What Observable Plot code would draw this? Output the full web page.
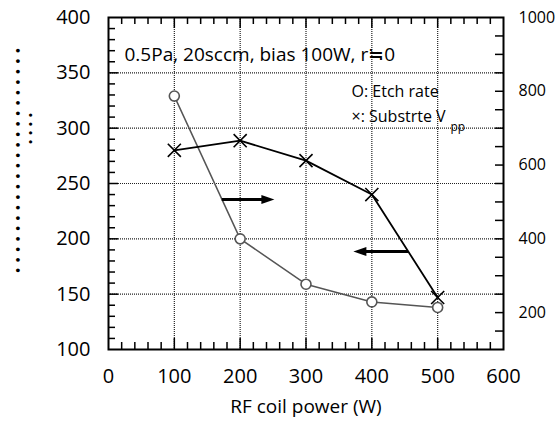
<!DOCTYPE html>
<html>
<head>
<meta charset="utf-8">
<script src="https://cdn.jsdelivr.net/npm/d3@7"></script>
<script src="https://cdn.jsdelivr.net/npm/@observablehq/plot@0.6"></script>
<style>
  body { margin: 0; background: white; }
</style>
</head>
<body>
<div id="chart"></div>
<script>
// RF coil power (W)
const power = [100, 200, 300, 400, 500];
// Etch rate, left axis
const etchRate = [329, 200, 159, 143, 138];
// Substrate Vpp, right axis
const vpp = [640, 666, 612, 520, 241];

const xTickLabels = [0, 100, 200, 300, 400, 500, 600];
const leftTickLabels = [100, 150, 200, 250, 300, 350, 400];
const rightTickLabels = [200, 400, 600, 800, 1000];

// Arrows telling which axis each curve belongs to (data coordinates, left scale)
const arrowFrom = [172, 455];
const arrowTo = [252, 372];
const arrowLevel = [235.5, 188.5];

const titleText = "0.5Pa, 20sccm, bias 100W, r≒0";
const legendEtch = "O: Etch rate";
const legendVpp = "×: Substrte V";
const xLabel = "RF coil power (W)";

// Right axis (100–1000) mapped onto the left scale (100–400)
const leftDomain = [100, 400];
const rightDomain = [100, 1000];
const toLeft = v => leftDomain[0] + (v - rightDomain[0]) * (leftDomain[1] - leftDomain[0]) / (rightDomain[1] - rightDomain[0]);
const fromLeft = l => rightDomain[0] + (l - leftDomain[0]) * (rightDomain[1] - rightDomain[0]) / (leftDomain[1] - leftDomain[0]);

const W = 557, H = 423;
const mL = 108, mR = 54, mT = 17, mB = 74;
const plotW = W - mL - mR, plotH = H - mT - mB;

const etch = power.map((p, i) => ({power: p, value: etchRate[i]}));
const sub = power.map((p, i) => ({power: p, value: toLeft(vpp[i])}));
const arrows = arrowFrom.map((x1, i) => ({x1, x2: arrowTo[i], y: arrowLevel[i], rot: arrowTo[i] > x1 ? 0 : 180}));

// filled arrow head with its tip at the origin, pointing right
const arrowHead = {
  draw(context) {
    context.moveTo(0, 0);
    context.lineTo(-13, -4.5);
    context.lineTo(-13, 4.5);
    context.closePath();
  }
};

const xMinor = d3.range(20, 600, 20).filter(d => d % 100 !== 0);
const xMajor = d3.range(100, 600, 100);
const leftMinor = d3.range(110, 400, 10).filter(d => d % 50 !== 0);
const leftMajor = d3.range(150, 400, 50);
const rightMinor = d3.range(150, 1000, 50).map(toLeft);

const grid = {stroke: "#222", strokeWidth: 1.2, strokeDasharray: "1,1"};
const tk = {stroke: "black", strokeWidth: 1.5};

const chart = Plot.plot({
  width: W,
  height: H,
  marginLeft: mL,
  marginRight: mR,
  marginTop: mT,
  marginBottom: mB,
  style: {fontFamily: "'Open Sans', sans-serif", fontSize: "16px", color: "black", background: "white"},
  x: {domain: [0, 600], label: null},
  y: {domain: leftDomain, label: null},
  marks: [
    // dotted grid
    Plot.ruleX(xMajor, {x: d => d, ...grid}),
    Plot.ruleY(leftMajor, {y: d => d, ...grid}),

    // inward ticks
    Plot.tickX(xMinor, {x: d => d, insetTop: plotH - 7, ...tk}),
    Plot.tickX(xMajor, {x: d => d, insetTop: plotH - 11, ...tk}),
    Plot.tickX(xMinor, {x: d => d, insetBottom: plotH - 7, ...tk}),
    Plot.tickX(xMajor, {x: d => d, insetBottom: plotH - 11, ...tk}),
    Plot.tickY(leftMinor, {y: d => d, insetRight: plotW - 7, ...tk}),
    Plot.tickY(leftMajor, {y: d => d, insetRight: plotW - 10, ...tk}),
    Plot.tickY(rightMinor, {y: d => d, insetLeft: plotW - 8, ...tk}),

    // tick labels
    Plot.axisX(xTickLabels, {anchor: "bottom", tickSize: 0, tickPadding: 19, fontSize: 20, label: null}),
    Plot.axisY(leftTickLabels, {anchor: "left", tickSize: 0, tickPadding: 18, fontSize: 20, label: null}),
    Plot.axisY(rightTickLabels.map(toLeft), {anchor: "right", tickSize: 0, tickPadding: 15, fontSize: 16, label: null, tickFormat: d => String(Math.round(fromLeft(d)))}),

    // etch rate
    Plot.line(etch, {x: "power", y: "value", stroke: "#555", strokeWidth: 1.5}),
    Plot.dot(etch, {x: "power", y: "value", r: 5, stroke: "#555", fill: "white", strokeWidth: 1.6}),

    // substrate Vpp
    Plot.line(sub, {x: "power", y: "value", stroke: "black", strokeWidth: 1.8}),
    Plot.dot(sub, {x: "power", y: "value", symbol: "times", r: 6, stroke: "black", strokeWidth: 1.6}),

    // axis arrows
    Plot.link(arrows, {x1: "x1", x2: d => d.x2 + (d.rot ? 10 : -10), y1: "y", y2: "y", stroke: "black", strokeWidth: 3}),
    Plot.dot(arrows, {x: "x2", y: "y", symbol: arrowHead, rotate: "rot", fill: "black", stroke: "none"}),

    // frame
    Plot.frame({stroke: "black", strokeWidth: 2}),

    // texts
    Plot.text([titleText], {frameAnchor: "top-left", textAnchor: "start", dx: 16, dy: 30, fontSize: 19}),
    Plot.text([legendEtch], {frameAnchor: "top-left", textAnchor: "start", dx: 243, dy: 68, fontSize: 16}),
    Plot.text([legendVpp], {frameAnchor: "top-left", textAnchor: "start", dx: 243, dy: 93, fontSize: 16}),
    Plot.text(["pp"], {frameAnchor: "top-left", textAnchor: "start", dx: 342, dy: 105, fontSize: 12}),
    Plot.text([xLabel], {frameAnchor: "bottom", dy: 63, fontSize: 19}),

    // y-axis caption glyphs
    Plot.text([Array(22).fill("•").join(" ")], {frameAnchor: "left", textAnchor: "middle", dx: -90, dy: -23, rotate: -90, fontSize: 10.6, fontWeight: "bold", fontFamily: "DejaVu Sans"}),
    Plot.text([Array(4).fill("•").join(" ")], {frameAnchor: "left", textAnchor: "middle", dx: -77.5, dy: -55, rotate: -90, fontSize: 9, fontWeight: "bold", fontFamily: "DejaVu Sans"})
  ]
});

document.getElementById("chart").append(chart);
</script>
</body>
</html>
